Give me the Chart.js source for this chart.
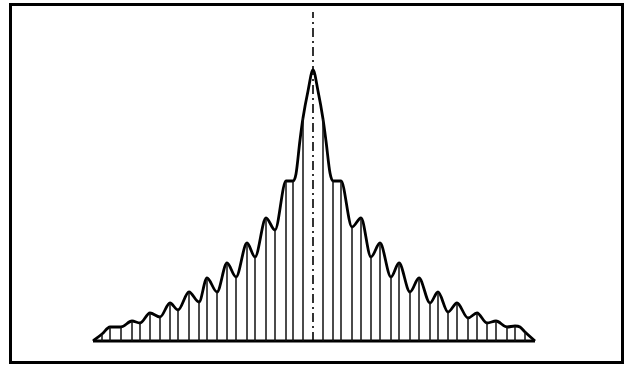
<!DOCTYPE html>
<html>
<head>
<meta charset="utf-8">
<script src="https://cdn.jsdelivr.net/npm/chart.js@4/dist/chart.umd.min.js"></script>
<style>
  html, body { margin: 0; padding: 0; background: #fff; }
  #wrap { width: 627px; height: 365px; }
</style>
</head>
<body>
<div id="wrap"><canvas id="c" width="627" height="365"></canvas></div>
<script>
// Diffraction-style intensity envelope: offset from the central axis and relative height
const offsets = [
  -220, -211, -203, -192, -181, -173, -163, -153, -143, -135, -124, -114,
  -106, -96, -86, -77, -66, -58, -47, -38, -27, -20, -17, -13, -10, -5, 0,
  5, 10, 13, 17, 20, 28, 39, 48, 58, 67, 78, 86, 97, 106, 117, 125, 135,
  144, 155, 164, 174, 183, 194, 202, 207, 212, 222
];
const intensity = [
  0, 7, 14, 14, 20, 18, 28, 24, 38, 31, 49, 39,
  63, 49, 78, 64, 98, 84, 123, 111, 160, 160, 167, 201, 223, 250, 271,
  250, 222, 200, 168, 160, 160, 114, 123, 84, 98, 64, 78, 49, 63, 38, 49, 29,
  38, 23, 28, 18, 20, 14, 15, 14, 9, 0
];
// Offsets where a vertical ordinate is dropped to the base line
const stemOffsets = [
  -211, -203, -192, -181, -173, -163, -153, -143, -135, -124, -114,
  -106, -96, -86, -77, -66, -58, -47, -38, -27, -20, -10,
  10, 20, 28, 39, 48, 58, 67, 78, 86, 97, 106, 117, 125, 135,
  144, 155, 164, 174, 183, 194, 202, 212
];
// Extent of the base line and height of the central axis
const baseRange = [-220, 222];
const axisTop = 329;

const curve = offsets.map((x, i) => ({ x, y: intensity[i] }));

const stems = [];
stemOffsets.forEach(x => {
  const h = intensity[offsets.indexOf(x)];
  stems.push({ x, y: 0 }, { x, y: h }, { x, y: null });
});

const framePlugin = {
  id: 'frame',
  afterDraw(chart) {
    const ctx = chart.ctx;
    ctx.save();
    ctx.strokeStyle = '#000';
    ctx.lineWidth = 3;
    ctx.strokeRect(10.5, 4.5, 612, 358);
    ctx.restore();
  }
};

new Chart(document.getElementById('c'), {
  type: 'line',
  data: {
    datasets: [
      {
        data: stems,
        borderColor: '#111',
        borderWidth: 1.5,
        pointRadius: 0,
        tension: 0,
        spanGaps: false
      },
      {
        data: curve,
        borderColor: '#000',
        borderWidth: 2.8,
        pointRadius: 0,
        cubicInterpolationMode: 'monotone'
      },
      {
        data: baseRange.map(x => ({ x, y: 0 })),
        borderColor: '#000',
        borderWidth: 3,
        pointRadius: 0
      },
      {
        data: [{ x: 0, y: 0 }, { x: 0, y: axisTop }],
        borderColor: '#000',
        borderWidth: 1.6,
        borderDash: [9, 4, 2, 4],
        pointRadius: 0
      }
    ]
  },
  options: {
    responsive: false,
    animation: false,
    layout: { padding: 0 },
    plugins: { legend: { display: false }, tooltip: { enabled: false } },
    scales: {
      x: { type: 'linear', min: -313, max: 314, display: false },
      y: { type: 'linear', min: -24, max: 341, display: false }
    }
  },
  plugins: [framePlugin]
});
</script>
</body>
</html>
